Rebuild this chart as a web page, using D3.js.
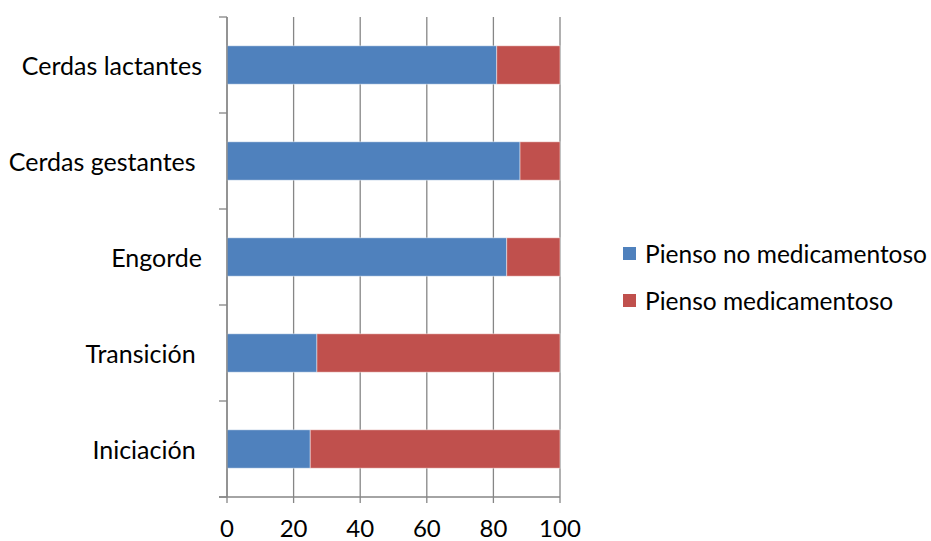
<!DOCTYPE html>
<html><head><meta charset="utf-8">
<script src="https://cdn.jsdelivr.net/npm/d3@7"></script>
<style>body{margin:0;background:#fff}svg{display:block}</style>
</head><body><svg id="c" width="931" height="541"></svg>
<script>
const categories = ["Cerdas lactantes", "Cerdas gestantes ", "Engorde", "Transición ", "Iniciación "];
const noMedicamentoso = [81, 88, 84, 27, 25];
const medicamentoso = [19, 12, 16, 73, 75];
const seriesNames = ["Pienso no medicamentoso", "Pienso medicamentoso"];
const xTicks = [0, 20, 40, 60, 80, 100];
const colors = ["#4F81BD", "#C0504D"];

const svg = d3.select("#c");
const font = "Lato, 'Open Sans', sans-serif";
const x = d3.scaleLinear().domain([0, 100]).range([227, 560]);
const y = d3.scaleBand().domain(categories).range([17, 497]).paddingInner(0.6).paddingOuter(0.3);
const yb = d3.scaleBand().domain(categories).range([17, 497]);

// gridlines
svg.append("g").selectAll("line").data(xTicks).join("line")
  .attr("x1", d => x(d)).attr("x2", d => x(d))
  .attr("y1", 17).attr("y2", 503)
  .attr("stroke", "#868686").attr("stroke-width", 1.3);

// bars
const stack = categories.map((c, i) => ({c, a: noMedicamentoso[i], b: medicamentoso[i]}));
const g = svg.append("g");
g.selectAll("rect.a").data(stack).join("rect").attr("class", "a")
  .attr("x", x(0)).attr("width", d => x(d.a) - x(0))
  .attr("y", d => y(d.c)).attr("height", y.bandwidth())
  .attr("fill", colors[0]).attr("stroke", "rgba(255,255,255,0.45)").attr("stroke-width", 1);
g.selectAll("rect.b").data(stack).join("rect").attr("class", "b")
  .attr("x", d => x(d.a)).attr("width", d => x(d.a + d.b) - x(d.a))
  .attr("y", d => y(d.c)).attr("height", y.bandwidth())
  .attr("fill", colors[1]).attr("stroke", "rgba(255,255,255,0.45)").attr("stroke-width", 1);

// left axis
const yAxisG = svg.append("g");
yAxisG.append("line").attr("x1", x(0)).attr("x2", x(0)).attr("y1", 17).attr("y2", 497)
  .attr("stroke", "#868686").attr("stroke-width", 1.3);
const bounds = categories.map(c => yb(c)).concat([497]);
yAxisG.selectAll("line.t").data(bounds).join("line").attr("class", "t")
  .attr("x1", 219).attr("x2", x(0)).attr("y1", d => d).attr("y2", d => d)
  .attr("stroke", "#868686").attr("stroke-width", 1.3);
// bottom axis line
svg.append("line").attr("x1", 219).attr("x2", x(100)).attr("y1", 497).attr("y2", 497)
  .attr("stroke", "#868686").attr("stroke-width", 1.3);

// category labels
svg.append("g").selectAll("text").data(categories).join("text")
  .attr("x", 202).attr("y", d => yb(d) + yb.bandwidth() / 2)
  .attr("text-anchor", "end").attr("dominant-baseline", "central")
  .attr("font-family", font).attr("font-size", 25).attr("fill", "#000")
  .style("white-space", "pre").attr("xml:space", "preserve")
  .text(d => d);

// x tick labels
svg.append("g").selectAll("text").data(xTicks).join("text")
  .attr("x", d => x(d)).attr("y", 527)
  .attr("text-anchor", "middle").attr("dominant-baseline", "central")
  .attr("font-family", font).attr("font-size", 24).attr("fill", "#000")
  .text(d => d);

// legend
const leg = svg.append("g");
const ly = [253, 300];
seriesNames.forEach((n, i) => {
  leg.append("rect").attr("x", 623).attr("y", ly[i] - 6).attr("width", 13).attr("height", 13).attr("fill", colors[i]);
  leg.append("text").attr("x", 645).attr("y", ly[i]).attr("dominant-baseline", "central")
    .attr("font-family", font).attr("font-size", 24.5).attr("fill", "#000").text(n);
});
</script></body></html>
